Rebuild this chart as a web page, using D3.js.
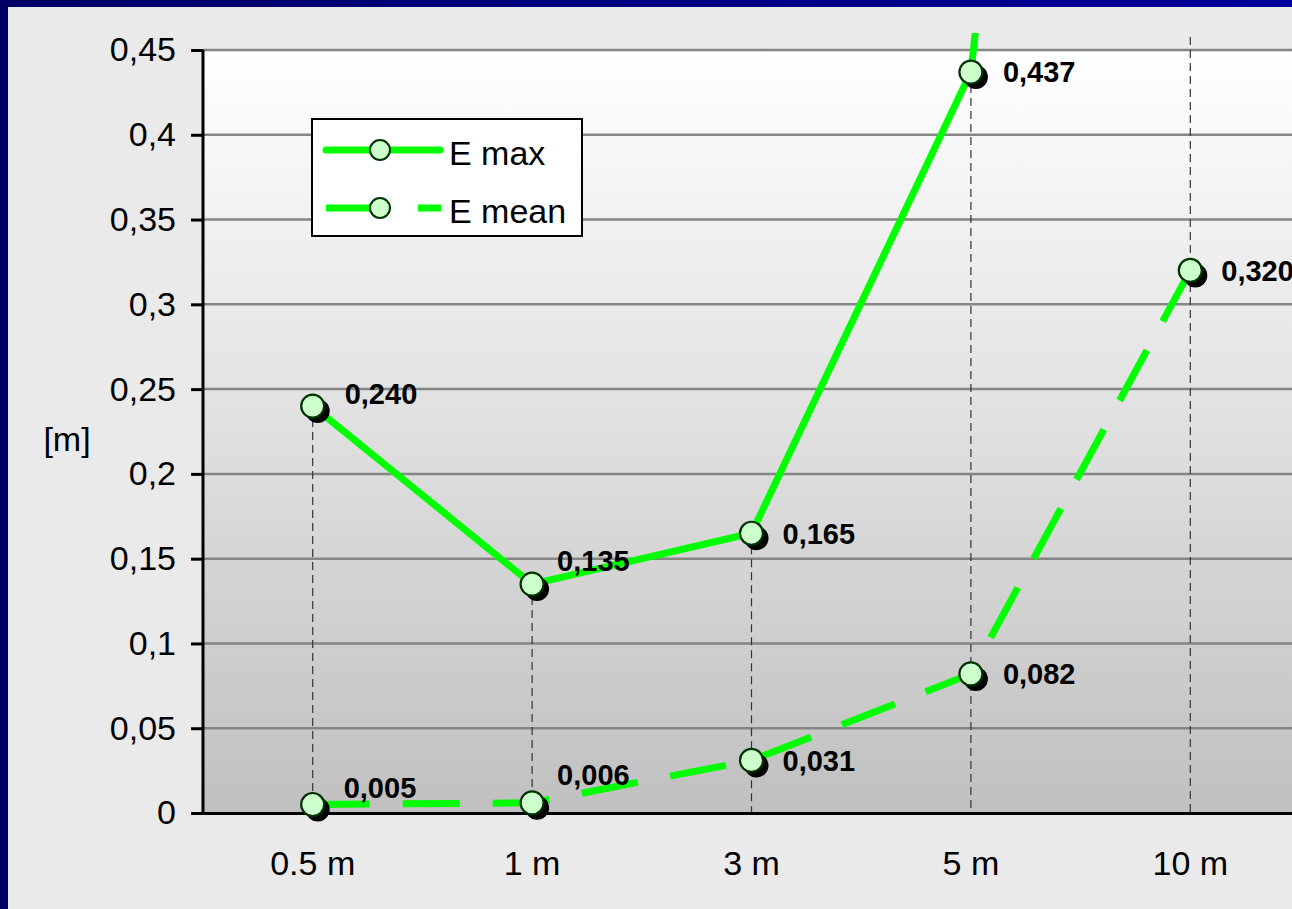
<!DOCTYPE html>
<html>
<head>
<meta charset="utf-8">
<script src="https://cdn.jsdelivr.net/npm/d3@7/dist/d3.min.js"></script>
<style>
  html, body { margin: 0; padding: 0; background: #eaeaea; overflow: hidden; }
  svg { display: block; }
  text { font-family: Arial, "Liberation Sans", sans-serif; }
</style>
</head>
<body>
<script>
// Distance categories and the two error series (metres)
const categories = ["0.5 m", "1 m", "3 m", "5 m", "10 m"];
const eMax = [0.240, 0.135, 0.165, 0.437, 1.6];
const eMean = [0.005, 0.006, 0.031, 0.082, 0.320];
const yTicks = [0, 0.05, 0.1, 0.15, 0.2, 0.25, 0.3, 0.35, 0.4, 0.45];
const seriesNames = ["E max", "E mean"];

// Label nudges (px) relative to each marker, per series
const labelNudge = [
  [[32, -13], [25, -24], [31, 0], [32, 0], [32, 0]],
  [[31, -17], [25, -28], [31, 0], [32, 0], [31, 0]]
];

const W = 1292, H = 909;
const plot = { left: 203, right: 1300, top: 50, bottom: 813 };

const svg = d3.select("body").append("svg").attr("width", W).attr("height", H);
const defs = svg.append("defs");

// Frame colour and chart area
const frameGrad = defs.append("linearGradient").attr("id", "frame")
  .attr("x1", 0).attr("x2", 1).attr("y1", 0).attr("y2", 0);
frameGrad.append("stop").attr("offset", "0%").attr("stop-color", "#000066");
frameGrad.append("stop").attr("offset", "100%").attr("stop-color", "#00009c");
svg.append("rect").attr("width", W).attr("height", H).attr("fill", "url(#frame)");
svg.append("rect").attr("x", 8).attr("y", 7).attr("width", W).attr("height", H).attr("fill", "#eaeaea");

// Plot background gradient
const bgGrad = defs.append("linearGradient").attr("id", "plotbg")
  .attr("x1", 0).attr("x2", 0).attr("y1", 0).attr("y2", 1);
bgGrad.append("stop").attr("offset", "0%").attr("stop-color", "#ffffff");
bgGrad.append("stop").attr("offset", "100%").attr("stop-color", "#c0c0c0");

const x = d3.scaleBand().domain(categories).range([plot.left, plot.right]);
const cx = c => x(c) + x.bandwidth() / 2;
const y = d3.scaleLinear().domain([0, 0.45]).range([plot.bottom, plot.top]);

svg.append("rect")
  .attr("x", plot.left).attr("y", plot.top)
  .attr("width", plot.right - plot.left).attr("height", plot.bottom - plot.top)
  .attr("fill", "url(#plotbg)");

// Clip for series lines (lines may rise a little above the plot area)
defs.append("clipPath").attr("id", "clip").append("rect")
  .attr("x", plot.left).attr("y", 33)
  .attr("width", plot.right - plot.left).attr("height", plot.bottom - 33);

// Horizontal gridlines
svg.append("g").selectAll("line").data(yTicks.filter(t => t > 0)).join("line")
  .attr("x1", plot.left).attr("x2", plot.right)
  .attr("y1", d => y(d)).attr("y2", d => y(d))
  .attr("stroke", "#858585").attr("stroke-width", 2.5);

// Drop lines from the highest value at each category
svg.append("g").attr("clip-path", "url(#clip)")
  .selectAll("line").data(categories).join("line")
  .attr("x1", d => cx(d)).attr("x2", d => cx(d))
  .attr("y1", (d, i) => y(Math.max(eMax[i], eMean[i])))
  .attr("y2", plot.bottom)
  .attr("stroke", "#333").attr("stroke-width", 1.2)
  .attr("stroke-dasharray", "8,5");

// Axes
const yAxis = d3.axisLeft(y).tickValues(yTicks).tickSize(12).tickPadding(15)
  .tickFormat(d => String(d).replace(".", ","));
const gy = svg.append("g").attr("transform", `translate(${plot.left},0)`).call(yAxis);
gy.select(".domain").attr("stroke", "#000").attr("stroke-width", 3)
  .attr("d", `M0,${plot.top}V${plot.bottom + 1.5}`);
gy.selectAll(".tick line").attr("stroke", "#000").attr("stroke-width", 3);
gy.selectAll(".tick text").attr("font-size", 34).attr("fill", "#000").attr("dy", "0.32em")
  .attr("font-family", "Arial, 'Liberation Sans', sans-serif");

const xAxis = d3.axisBottom(x).tickSize(0).tickPadding(38);
const gx = svg.append("g").attr("transform", `translate(0,${plot.bottom})`).call(xAxis);
gx.select(".domain").attr("stroke", "#000").attr("stroke-width", 3);
gx.selectAll(".tick text").attr("font-size", 34).attr("fill", "#000")
  .attr("font-family", "Arial, 'Liberation Sans', sans-serif");

svg.append("text").attr("x", 67).attr("y", 451).attr("text-anchor", "middle")
  .attr("font-size", 34).text("[m]");

// Series lines
const line = d3.line().x((d, i) => cx(categories[i])).y(d => y(d));
const lines = svg.append("g").attr("clip-path", "url(#clip)");
lines.append("path").datum(eMax).attr("d", line)
  .attr("fill", "none").attr("stroke", "#00ff00").attr("stroke-width", 7)
  .attr("stroke-linejoin", "round").attr("stroke-linecap", "round");
lines.append("path").datum(eMean).attr("d", line)
  .attr("fill", "none").attr("stroke", "#00ff00").attr("stroke-width", 7)
  .attr("stroke-dasharray", "57,33");

// Markers with drop shadow
const series = [eMax, eMean];
const fmt = d => d3.format(".3f")(d).replace(".", ",");
series.forEach((vals, s) => {
  const pts = vals.map((v, i) => ({ v, i, c: categories[i] })).filter(p => p.v <= 0.45);
  const g = svg.append("g");
  g.selectAll("circle.sh").data(pts).join("circle").attr("class", "sh")
    .attr("cx", p => cx(p.c) + 5).attr("cy", p => y(p.v) + 5).attr("r", 12)
    .attr("fill", "#000");
  g.selectAll("circle.mk").data(pts).join("circle").attr("class", "mk")
    .attr("cx", p => cx(p.c)).attr("cy", p => y(p.v)).attr("r", 11.5)
    .attr("fill", "#ccffcc").attr("stroke", "#003300").attr("stroke-width", 2.2);
  g.selectAll("text").data(pts).join("text")
    .attr("x", p => cx(p.c) + labelNudge[s][p.i][0])
    .attr("y", p => y(p.v) + labelNudge[s][p.i][1])
    .attr("dy", "0.36em")
    .attr("font-size", 29).attr("font-weight", "bold").attr("fill", "#000")
    .text(p => fmt(p.v));
});

// Legend
const lg = svg.append("g");
lg.append("rect").attr("x", 312).attr("y", 119).attr("width", 270).attr("height", 117)
  .attr("fill", "#fff").attr("stroke", "#000").attr("stroke-width", 2);
const rows = [150, 208];
seriesNames.forEach((name, s) => {
  const ly = rows[s];
  const l = lg.append("line").attr("y1", ly).attr("y2", ly)
    .attr("stroke", "#00ff00").attr("stroke-width", 7);
  if (s === 0) {
    l.attr("x1", 326).attr("x2", 440).attr("stroke-linecap", "round");
  } else {
    l.attr("x1", 326).attr("x2", 441).attr("stroke-dasharray", "57,35");
  }
  lg.append("circle").attr("cx", 380).attr("cy", ly).attr("r", 10)
    .attr("fill", "#ccffcc").attr("stroke", "#003300").attr("stroke-width", 2);
  lg.append("text").attr("x", 449).attr("y", ly + 15).attr("font-size", 34).text(name);
});
</script>
</body>
</html>
